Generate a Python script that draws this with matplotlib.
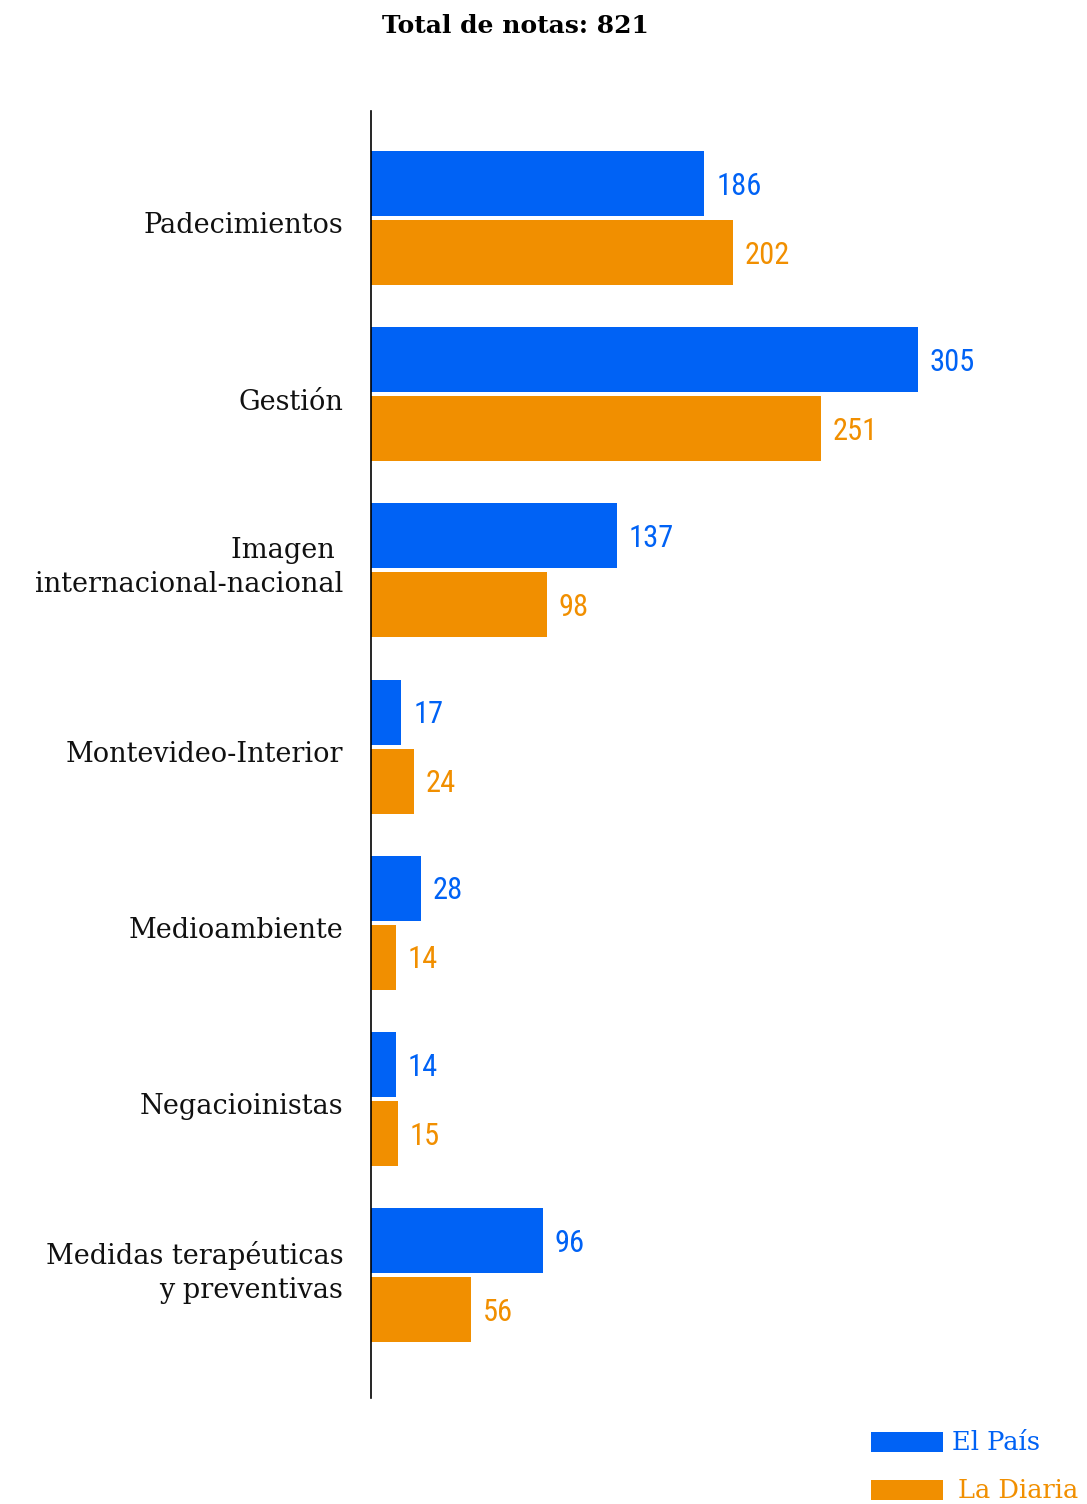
import numpy as np
import matplotlib.pyplot as plt
from matplotlib.patches import Rectangle

categories = ['Padecimientos', 'Gestión', 'Imagen \ninternacional-nacional',
              'Montevideo-Interior', 'Medioambiente', 'Negacioinistas',
              'Medidas terapéuticas\ny preventivas']
el_pais = [186, 305, 137, 17, 28, 14, 96]
la_diaria = [202, 251, 98, 24, 14, 15, 56]
series_names = ['El País', 'La Diaria']

BLUE = '#0062F5'
ORANGE = '#F18F00'
SERIF = ['DejaVu Serif']
NUM = ['Roboto Condensed', 'Roboto', 'DejaVu Sans']

fig = plt.figure(figsize=(10.87, 15.04), dpi=100)
ax = fig.add_axes([371 / 1087, 1 - 1398 / 1504, 716 / 1087, 1287 / 1504])

y = np.arange(len(categories))
h = 0.369
off = 0.196
ax.barh(y - off, el_pais, height=h, color=BLUE)
ax.barh(y + off, la_diaria, height=h, color=ORANGE)

for yi, v in zip(y, el_pais):
    ax.text(v + 6.5, yi - off + 0.015, str(v), color=BLUE, va='center', ha='left',
            fontsize=22, family=NUM)
for yi, v in zip(y, la_diaria):
    ax.text(v + 6.5, yi + off + 0.015, str(v), color=ORANGE, va='center', ha='left',
            fontsize=22, family=NUM)

for yi, c in zip(y, categories):
    dy = -0.015 if '\n' in c else 0.045  # multi-line labels sit a bit higher
    ax.text(-15.5, yi + dy, c, ha='right', va='center', multialignment='right',
            fontsize=19.5, family=SERIF, color='#111111', linespacing=1.35)

ax.set_xlim(0, 716 / 1.793)
ax.set_ylim(6.697, -0.607)
ax.set_xticks([])
ax.set_yticks([])
for s in ['top', 'right', 'bottom']:
    ax.spines[s].set_visible(False)
ax.spines['left'].set_linewidth(1.2)
ax.spines['left'].set_color('black')

fig.text(515 / 1087, 1 - 26 / 1504, 'Total de notas: 821', ha='center', va='center',
         fontsize=18, fontweight='bold', family=SERIF)

# legend
for i, (name, col) in enumerate(zip(series_names, [BLUE, ORANGE])):
    yc = 1442 + i * 48
    fig.add_artist(Rectangle((871 / 1087, 1 - (yc + 10) / 1504), 72 / 1087, 20 / 1504,
                             transform=fig.transFigure, color=col, lw=0))
    fig.text((952 + i * 6) / 1087, 1 - yc / 1504, name, color=col, va='center',
             ha='left', fontsize=18.5, family=SERIF)

fig.savefig('out.png', dpi=100)
